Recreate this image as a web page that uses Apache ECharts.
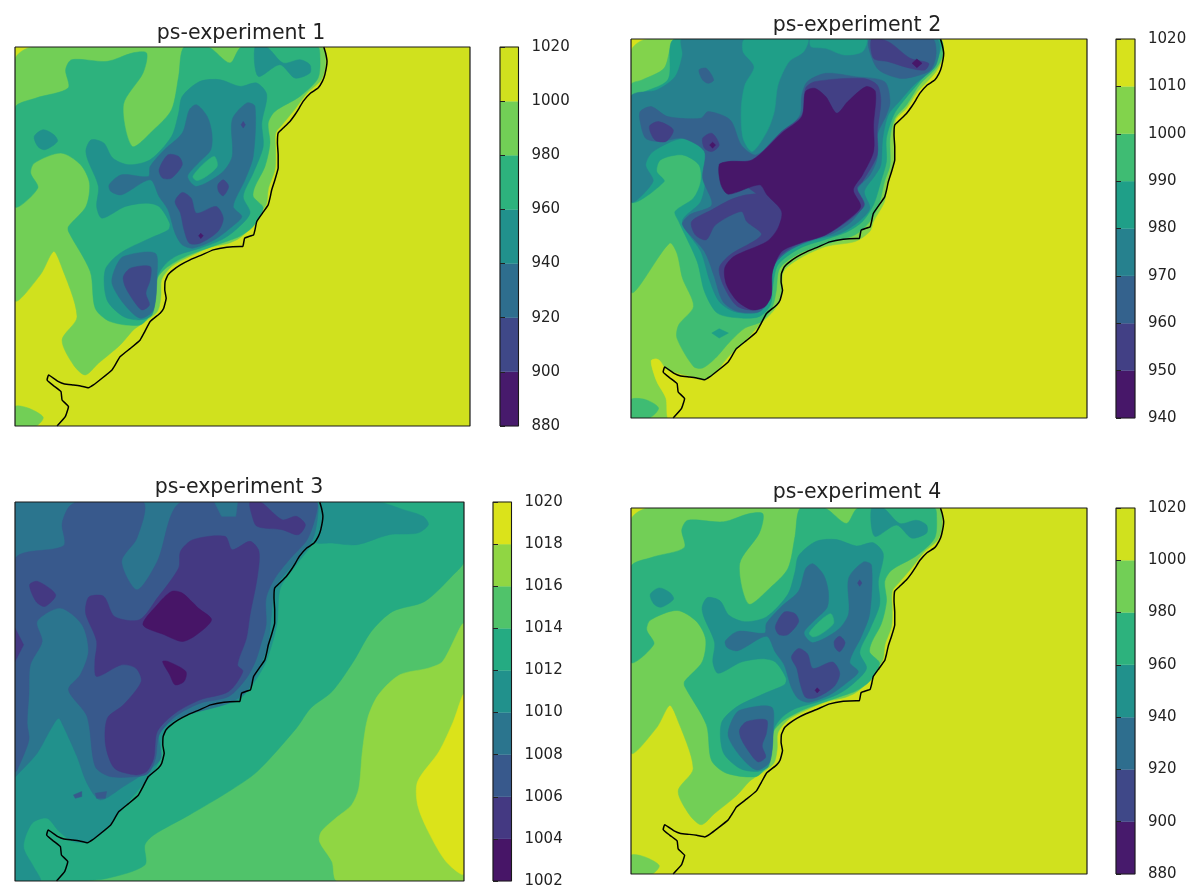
<!DOCTYPE html>
<html>
<head>
<meta charset="utf-8">
<style>html,body{margin:0;padding:0;background:#fff}#c{width:1196px;height:891px}</style>
<script src="https://cdn.jsdelivr.net/npm/echarts@6/dist/echarts.min.js"></script>
</head>
<body>
<div id="c"></div>
<script>
// ---------- chart text and colourbar scales ----------
const titles = ['ps-experiment 1', 'ps-experiment 2', 'ps-experiment 3', 'ps-experiment 4'];
const levels1 = [880, 900, 920, 940, 960, 980, 1000, 1020];
const levels2 = [940, 950, 960, 970, 980, 990, 1000, 1010, 1020];
const levels3 = [1002, 1004, 1006, 1008, 1010, 1012, 1014, 1016, 1018, 1020];
const viridisStops = ['#440154','#471365','#482475','#463480','#414487','#3b528b','#355f8d','#2f6c8e','#2a788e','#25848e','#21918c','#1e9c89','#22a884','#2fb47c','#44bf70','#5ec962','#7ad151','#9bd93c','#bddf26','#dfe318','#fde725'];

// ---------- coastline, map units ----------
const coast = [[907,112],[912,130],[916,155],[910,195],[903,215],[891,235],[870,250],[849,275],[838,295],[826,315],[812,335],[793,355],[779,370],[777,400],[779,435],[779,475],[770,510],[761,540],[756,565],[751,585],[735,610],[719,635],[714,660],[710,675],[685,685],[680,710],[672,710],[635,712],[597,720],[565,735],[532,750],[505,765],[485,780],[470,795],[462,815],[461,840],[465,865],[458,895],[448,910],[420,935],[405,965],[392,990],[365,1015],[336,1040],[322,1065],[313,1080],[285,1105],[261,1125],[247,1133],[225,1128],[205,1125],[180,1122],[163,1115],[135,1095],[131,1110],[150,1128],[170,1145],[173,1170],[191,1190],[182,1220],[159,1248]];

// ---------- filled contours: [band index, outline], painted in order ----------
const contours1 = [
 [6,[[41,112],[1317,112],[1317,1248],[41,1248]]],
 [5,[[90,112],[900,112],[912,160],[900,210],[860,250],[825,300],[790,345],[772,370],[772,430],[770,480],[752,535],[745,585],[715,625],[700,655],[670,685],[640,700],[590,712],[530,740],[480,770],[452,810],[450,860],[440,905],[392,945],[373,960],[336,1005],[275,1060],[238,1095],[205,1065],[173,990],[215,920],[168,760],[149,725],[112,795],[41,870],[41,150]]],
 [5,[[41,1190],[80,1195],[120,1222],[100,1248],[41,1248]]],
 [4,[[41,295],[100,265],[190,235],[183,180],[200,150],[300,155],[370,130],[410,130],[400,190],[345,285],[370,410],[430,360],[480,300],[500,200],[515,112],[583,112],[644,160],[677,112],[890,112],[896,130],[891,205],[840,260],[770,305],[751,340],[756,400],[742,470],[714,530],[709,560],[737,595],[709,650],[670,680],[620,700],[530,735],[470,770],[440,805],[435,860],[425,905],[392,945],[308,935],[266,895],[252,785],[191,665],[191,650],[240,590],[250,520],[225,465],[170,430],[95,460],[85,490],[105,535],[41,590]]],
 [3,[[95,380],[120,360],[150,375],[160,395],[125,420],[105,410]]],
 [3,[[714,112],[723,200],[784,165],[826,205],[868,190],[868,165],[840,150],[793,160],[747,112]]],
 [3,[[240,420],[255,390],[290,400],[315,445],[360,465],[420,450],[480,380],[500,310],[510,260],[560,215],[616,210],[672,230],[719,220],[747,255],[733,340],[737,410],[709,490],[681,560],[700,610],[660,660],[620,690],[560,715],[500,735],[465,760],[440,800],[435,860],[425,915],[392,930],[345,920],[299,870],[294,780],[336,730],[420,685],[471,660],[475,640],[445,590],[410,580],[350,590],[285,625],[270,590],[275,530],[245,450]]],
 [2,[[305,525],[340,495],[415,500],[420,470],[460,420],[510,370],[530,300],[550,285],[580,320],[593,370],[590,420],[555,460],[525,500],[550,530],[620,490],[650,440],[650,330],[691,280],[714,290],[709,440],[686,510],[653,590],[677,620],[650,650],[600,690],[540,715],[510,705],[490,670],[470,600],[445,560],[420,510],[340,555],[310,545]]],
 [2,[[322,775],[345,740],[434,730],[439,800],[429,900],[392,925],[345,880],[313,820]]],
 [4,[[540,500],[570,462],[600,440],[608,470],[570,505],[550,512]]],
 [1,[[445,480],[470,435],[500,440],[510,465],[480,505],[455,505]]],
 [1,[[610,525],[625,510],[640,530],[625,558],[612,545]]],
 [1,[[490,575],[510,548],[535,565],[550,610],[605,590],[625,625],[610,665],[560,700],[530,700],[515,660],[505,610]]],
 [1,[[345,800],[365,775],[420,770],[420,810],[408,850],[418,885],[397,900],[372,870],[350,830]]],
 [1,[[675,345],[681,335],[687,345],[681,355]]],
 [0,[[556,678],[562,670],[569,678],[562,686]]]
];

const contours2 = [
 [7,[[30,102],[1271,102],[1271,1240],[30,1240]]],
 [6,[[75,102],[870,102],[880,150],[860,200],[810,260],[780,310],[750,345],[745,420],[745,470],[725,540],[720,590],[690,650],[680,680],[640,710],[560,725],[490,760],[445,800],[440,870],[420,915],[380,960],[340,1010],[300,1050],[262,1100],[232,1125],[190,1115],[140,1100],[115,1085],[100,1062],[85,1070],[100,1130],[125,1180],[140,1240],[30,1240],[30,140]]],
 [5,[[30,240],[60,225],[120,190],[155,102],[870,102],[878,150],[860,190],[815,240],[780,300],[748,340],[735,400],[735,480],[720,530],[705,600],[680,650],[640,690],[570,715],[490,745],[435,790],[425,860],[415,905],[385,950],[340,970],[300,1010],[260,1060],[225,1090],[200,1085],[155,1000],[160,960],[200,905],[170,820],[155,745],[135,715],[30,860]]],
 [5,[[30,1185],[70,1185],[105,1210],[80,1240],[30,1240]]],
 [4,[[30,290],[130,225],[150,102],[870,102],[860,170],[815,230],[770,290],[745,330],[725,400],[725,470],[710,530],[690,600],[660,650],[620,680],[570,700],[490,730],[430,780],[415,850],[410,900],[380,935],[330,940],[265,925],[230,860],[210,770],[160,650],[150,620],[200,580],[220,530],[215,480],[170,450],[110,465],[100,500],[120,530],[30,590]]],
 [4,[[250,985],[270,972],[295,985],[270,1000]]],
 [3,[[30,275],[100,255],[150,215],[170,150],[170,102],[860,102],[860,180],[800,240],[760,290],[730,330],[715,400],[710,480],[695,510],[665,560],[680,610],[650,650],[600,685],[530,705],[470,730],[420,775],[405,860],[400,900],[370,925],[310,920],[270,890],[245,830],[220,740],[170,650],[220,590],[235,500],[225,420],[170,400],[90,440],[70,480],[90,530],[30,590]]],
 [4,[[340,102],[510,102],[500,140],[460,170],[430,240],[420,320],[400,380],[360,440],[335,400],[330,310],[340,240],[365,185],[335,140]]],
 [4,[[520,102],[670,102],[660,140],[610,150],[560,130],[520,125]]],
 [2,[[55,320],[85,305],[130,335],[220,340],[240,320],[300,345],[330,420],[370,450],[440,390],[490,330],[495,270],[510,230],[560,205],[640,215],[720,230],[735,290],[725,330],[700,390],[700,460],[680,510],[645,555],[660,600],[630,650],[580,685],[510,710],[450,745],[415,790],[405,880],[380,920],[320,920],[280,890],[255,810],[230,740],[170,660],[190,630],[250,600],[225,520],[230,440],[170,400],[110,410],[70,400],[55,350]]],
 [2,[[215,195],[235,190],[255,225],[240,235],[225,225]]],
 [2,[[680,102],[850,102],[860,150],[845,195],[800,215],[760,220],[700,190]]],
 [1,[[270,480],[300,470],[360,465],[440,380],[495,330],[505,250],[530,230],[660,220],[700,240],[710,290],[700,380],[700,450],[660,530],[645,550],[665,600],[630,640],[560,690],[480,720],[430,760],[410,820],[410,880],[375,915],[320,905],[285,850],[270,790],[300,750],[385,690],[345,650],[330,620],[260,660],[235,705],[205,690],[195,650],[250,615],[300,585],[345,570],[395,570],[430,610]]],
 [1,[[80,365],[105,350],[145,375],[125,410],[95,405]]],
 [1,[[225,400],[250,385],[270,420],[250,440],[230,430]]],
 [1,[[685,102],[730,110],[790,160],[840,175],[830,195],[790,190],[730,170],[690,160]]],
 [0,[[270,480],[295,470],[360,465],[440,385],[495,335],[505,260],[530,250],[560,275],[590,325],[620,290],[670,245],[695,260],[690,360],[690,440],[660,510],[635,555],[655,605],[620,645],[560,690],[490,715],[440,740],[415,800],[412,870],[395,905],[360,915],[320,890],[290,840],[285,790],[310,755],[400,710],[430,670],[440,620],[400,570],[380,540],[295,568],[275,540]]],
 [0,[[244,420],[252,412],[260,420],[252,430]]],
 [0,[[795,175],[808,162],[822,175],[808,188]]],
 [7,[[85,1068],[105,1065],[120,1090],[115,1105],[150,1135],[160,1170],[175,1180],[145,1240],[130,1240],[125,1180],[100,1130]]]
];

const contours3 = [
 [6,[[41,112],[1300,112],[1300,1248],[41,1248]]],
 [7,[[1300,480],[1240,590],[1200,610],[1120,630],[1060,690],[1030,760],[1015,860],[1005,970],[985,1020],[940,1060],[900,1100],[895,1130],[930,1190],[945,1248],[1300,1248]]],
 [8,[[1300,690],[1270,770],[1230,860],[1170,950],[1170,1020],[1200,1100],[1250,1190],[1300,1225]]],
 [5,[[1300,290],[1270,330],[1190,410],[1100,440],[1040,500],[990,590],[930,680],[870,730],[830,790],[720,920],[640,980],[530,1050],[430,1110],[405,1140],[405,1200],[300,1240],[220,1248],[41,1248],[41,112],[1300,112]]],
 [4,[[895,112],[1060,112],[1130,135],[1185,155],[1200,180],[1170,205],[1090,210],[1000,240],[930,235],[880,230]]],
 [4,[[41,112],[895,112],[905,170],[880,230],[830,300],[785,370],[775,480],[745,590],[700,670],[660,710],[590,720],[500,760],[455,815],[448,880],[430,920],[395,965],[340,1035],[285,1105],[245,1130],[205,1130],[165,1100],[131,1060],[89,1075],[65,1145],[93,1205],[112,1248],[41,1248]]],
 [3,[[41,112],[885,112],[890,150],[875,225],[820,300],[770,370],[760,450],[750,540],[725,610],[690,680],[640,715],[540,745],[480,770],[445,810],[450,880],[410,920],[345,965],[280,1005],[243,955],[215,875],[177,785],[163,760],[140,795],[103,865],[47,930],[41,935]]],
 [2,[[41,285],[177,243],[173,178],[190,130],[215,112],[400,112],[383,220],[340,290],[383,375],[440,290],[508,112],[885,112],[885,150],[860,225],[810,285],[770,340],[745,400],[745,480],[730,540],[715,590],[690,640],[640,695],[560,715],[490,755],[445,810],[435,880],[415,925],[383,935],[308,935],[266,905],[243,755],[191,675],[224,630],[247,560],[229,480],[168,430],[103,470],[117,530],[84,600],[80,690],[75,775],[80,825],[47,915],[41,920]]],
 [3,[[600,112],[665,112],[660,155],[620,155]]],
 [2,[[205,990],[228,980],[228,995],[210,1000]]],
 [2,[[266,985],[298,980],[294,1000],[270,1000]]],
 [1,[[240,420],[250,395],[290,395],[320,455],[390,465],[440,400],[500,310],[505,260],[540,225],[630,215],[650,255],[700,230],[725,260],[720,340],[700,450],[690,520],[665,600],[680,620],[640,680],[560,705],[490,745],[440,800],[430,880],[410,920],[380,930],[320,910],[295,840],[300,760],[345,720],[395,650],[380,610],[340,600],[270,635],[265,590],[270,530],[240,450]]],
 [1,[[82,360],[105,350],[155,390],[125,425],[100,410]]],
 [1,[[41,490],[65,540],[41,590]]],
 [1,[[700,112],[730,112],[790,165],[830,155],[855,180],[835,210],[790,195],[720,185],[705,150]]],
 [0,[[400,480],[440,420],[480,380],[510,385],[555,430],[592,465],[550,510],[510,530],[460,510]]],
 [0,[[455,590],[470,590],[520,620],[515,650],[490,660],[475,630]]]
];

// outline extents in which each contour list was read
const readFrames = [[41,1317,112,1248],[30,1271,102,1240],[41,1300,112,1248],[41,1317,112,1248]];
const mapFrame = [41,1317,112,1248];
const panelContours = [contours1, contours2, contours3, contours1];
const panelLevels = [levels1, levels2, levels3, levels1];
const ticksStep = [20, 10, 2, 20];

// ---------- layout in page pixels ----------
const mapBoxes = [[15,47,455,379],[631,39,456,379],[15,502,449,379],[631,508,456,366]];
const barBoxes = [[500,47,18.5,379],[1116,39,19,379],[493,502,18.5,379],[1116,508,19,366]];
const titleCentres = [[236,18],[852,10],[234,472],[852,477]];

function viridis(t){
  const p = t * (viridisStops.length - 1), i = Math.min(Math.floor(p), viridisStops.length - 2), f = p - i;
  const rgb = s => [1,3,5].map(k => parseInt(s.substr(k,2),16));
  const a = rgb(viridisStops[i]), b = rgb(viridisStops[i+1]);
  return 'rgb(' + a.map((v,k) => Math.round(v + (b[k]-v)*f)).join(',') + ')';
}
function bandColor(band, n){ return viridis((band + 0.5) / n); }
function toMap(pts, rf){
  return pts.map(p => [
    mapFrame[0] + (p[0]-rf[0]) / (rf[1]-rf[0]) * (mapFrame[1]-mapFrame[0]),
    mapFrame[2] + (p[1]-rf[2]) / (rf[3]-rf[2]) * (mapFrame[3]-mapFrame[2])
  ]);
}

const grid = [], xAxis = [], yAxis = [], series = [], title = [];
panelContours.forEach((list, k) => {
  const lv = panelLevels[k], n = lv.length - 1;
  const polys = list.map(c => ({band: c[0], pts: toMap(c[1], readFrames[k])}));
  const m = mapBoxes[k], b = barBoxes[k];
  title.push({text: titles[k], left: titleCentres[k][0], top: titleCentres[k][1], textAlign: 'center',
    textStyle: {fontFamily: 'DejaVu Sans', fontSize: 20.5, fontWeight: 'normal', color: '#222'}});

  // map panel
  grid.push({left: m[0], top: m[1], width: m[2], height: m[3]});
  xAxis.push({gridIndex: 2*k, type: 'value', min: mapFrame[0], max: mapFrame[1], show: false});
  yAxis.push({gridIndex: 2*k, type: 'value', min: mapFrame[2], max: mapFrame[3], inverse: true, show: false});
  series.push({
    type: 'custom', xAxisIndex: 2*k, yAxisIndex: 2*k, clip: true, silent: true, z: 2,
    data: polys.map((p, i) => [i]),
    encode: {x: 0},
    renderItem: (params, api) => {
      const p = polys[api.value(0)];
      return {type: 'polygon',
        shape: {points: p.pts.map(q => api.coord(q)), smooth: p.pts.length > 4 ? 0.28 : 0},
        style: {fill: bandColor(p.band, n), stroke: bandColor(p.band, n), lineWidth: 0.5}};
    }
  });
  series.push({type: 'line', xAxisIndex: 2*k, yAxisIndex: 2*k, data: toMap(coast, mapFrame), symbol: 'none', smooth: 0.1,
    lineStyle: {color: '#000', width: 1.5}, z: 3, silent: true, animation: false});
  series.push({type: 'line', xAxisIndex: 2*k, yAxisIndex: 2*k, symbol: 'none', clip: false, silent: true, z: 4,
    data: [[mapFrame[0],mapFrame[2]],[mapFrame[1],mapFrame[2]],[mapFrame[1],mapFrame[3]],[mapFrame[0],mapFrame[3]],[mapFrame[0],mapFrame[2]]],
    lineStyle: {color: '#1a1a1a', width: 1.2}});

  // colourbar
  grid.push({left: b[0], top: b[1], width: b[2], height: b[3]});
  xAxis.push({gridIndex: 2*k+1, type: 'value', min: 0, max: 1, show: false});
  yAxis.push({gridIndex: 2*k+1, type: 'value', min: lv[0], max: lv[n], interval: ticksStep[k], position: 'right',
    splitLine: {show: false}, axisLine: {show: false},
    axisTick: {show: true, length: 5, lineStyle: {color: '#222', width: 1}},
    axisLabel: {show: true, margin: 13, padding: [4,0,0,0], formatter: v => String(v), fontFamily: 'DejaVu Sans', fontSize: 15, color: '#222', hideOverlap: false, showMinLabel: true, showMaxLabel: true}, z: 5});
  series.push({
    type: 'custom', xAxisIndex: 2*k+1, yAxisIndex: 2*k+1, silent: true, z: 2,
    data: lv.slice(0, n).map((v, i) => [i, v, lv[i+1]]),
    encode: {y: [1, 2]},
    renderItem: (params, api) => {
      const a = api.coord([0, api.value(1)]), c = api.coord([1, api.value(2)]);
      const col = bandColor(api.value(0), n);
      return {type: 'rect', shape: {x: a[0], y: c[1], width: c[0]-a[0], height: a[1]-c[1]}, style: {fill: col, stroke: col, lineWidth: 0.3}};
    }
  });
  series.push({type: 'line', xAxisIndex: 2*k+1, yAxisIndex: 2*k+1, symbol: 'none', clip: false, silent: true, z: 4,
    data: [[0,lv[0]],[1,lv[0]],[1,lv[n]],[0,lv[n]],[0,lv[0]]],
    lineStyle: {color: '#1a1a1a', width: 1.1}});
});

const chart = echarts.init(document.getElementById('c'), null, {renderer: 'canvas'});
chart.setOption({animation: false, backgroundColor: '#fff', title, grid, xAxis, yAxis, series});
</script>
</body>
</html>
